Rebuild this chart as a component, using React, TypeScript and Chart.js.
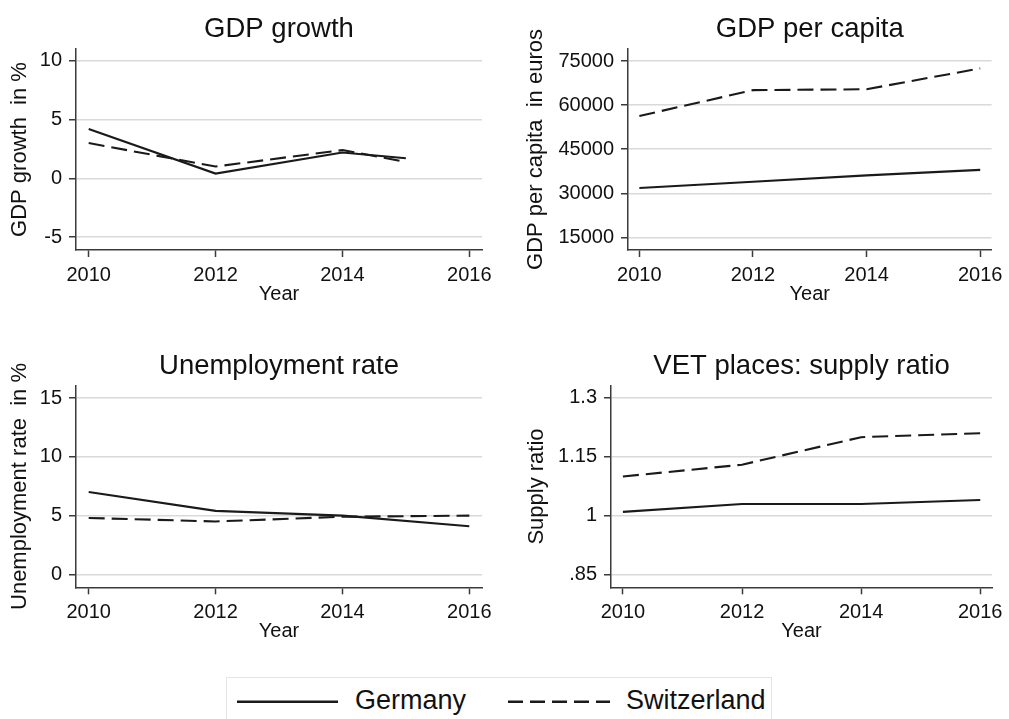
import { useEffect, useRef } from "react";
import { Chart, registerables } from "chart.js";

Chart.register(...registerables);

// ---- data ----
const growthYears = [2010, 2012, 2014, 2015];
const growthGermany = [4.2, 0.4, 2.2, 1.7];
const growthSwitzerland = [3.0, 1.0, 2.4, 1.4];

const years = [2010, 2012, 2014, 2016];
const gdpGermany = [31800, 33900, 36100, 37950];
const gdpSwitzerland = [56300, 65100, 65400, 72500];

const unempGermany = [7.0, 5.4, 5.0, 4.1];
const unempSwitzerland = [4.8, 4.5, 4.9, 5.0];

const vetGermany = [1.01, 1.03, 1.03, 1.04];
const vetSwitzerland = [1.1, 1.13, 1.2, 1.21];

const yearTicks = [2010, 2012, 2014, 2016];
const growthTicks = [-5, 0, 5, 10];
const growthTickLabels = ["-5", "0", "5", "10"];
const gdpTicks = [15000, 30000, 45000, 60000, 75000];
const gdpTickLabels = ["15000", "30000", "45000", "60000", "75000"];
const unempTicks = [0, 5, 10, 15];
const unempTickLabels = ["0", "5", "10", "15"];
const vetTicks = [0.85, 1, 1.15, 1.3];
const vetTickLabels = [".85", "1", "1.15", "1.3"];

const seriesNames = ["Germany", "Switzerland"];

// ---- styling ----
const FONT = "'Liberation Sans', Arial, Helvetica, sans-serif";
const TEXT = "#111111";
const AXIS = "#3a3a3a";
const GRID = "#d9d9d9";
const LINE = "#1a1a1a";
const DASH = [16, 7];
const X_AXIS_H = 70;
const TITLE_SIZE = 27.5;
const TICK_SIZE = 20;
const Y_TITLE_SIZE = 22;
const X_TITLE_SIZE = 20;
const LEGEND_SIZE = 27;

type Panel = {
  title: string;
  yTitle: string;
  xs: number[];
  germany: number[];
  switzerland: number[];
  yTicks: number[];
  yLabels: string[];
  yMin: number;
  yMax: number;
  box: { left: number; top: number; width: number; height: number };
  area: { l: number; t: number; r: number; b: number };
  yTitlePad: number;
};

const panels: Panel[] = [
  {
    title: "GDP growth",
    yTitle: "GDP growth  in %",
    xs: growthYears,
    germany: growthGermany,
    switzerland: growthSwitzerland,
    yTicks: growthTicks,
    yLabels: growthTickLabels,
    yMin: -6.1,
    yMax: 11.0,
    box: { left: 0, top: 0, width: 500, height: 320 },
    area: { l: 76, t: 49, r: 482, b: 250 },
    yTitlePad: 6.6,
  },
  {
    title: "GDP per capita",
    yTitle: "GDP per capita  in euros",
    xs: years,
    germany: gdpGermany,
    switzerland: gdpSwitzerland,
    yTicks: gdpTicks,
    yLabels: gdpTickLabels,
    yMin: 10700,
    yMax: 79100,
    box: { left: 505, top: 0, width: 504, height: 320 },
    area: { l: 123, t: 49, r: 493, b: 250 },
    yTitlePad: 18.2,
  },
  {
    title: "Unemployment rate",
    yTitle: "Unemployment rate  in %",
    xs: years,
    germany: unempGermany,
    switzerland: unempSwitzerland,
    yTicks: unempTicks,
    yLabels: unempTickLabels,
    yMin: -1.1,
    yMax: 16.05,
    box: { left: 0, top: 340, width: 500, height: 320 },
    area: { l: 76, t: 45.7, r: 482, b: 247.3 },
    yTitlePad: 6.6,
  },
  {
    title: "VET places: supply ratio",
    yTitle: "Supply ratio",
    xs: years,
    germany: vetGermany,
    switzerland: vetSwitzerland,
    yTicks: vetTicks,
    yLabels: vetTickLabels,
    yMin: 0.818,
    yMax: 1.331,
    box: { left: 505, top: 340, width: 504, height: 320 },
    area: { l: 106, t: 45.7, r: 493, b: 247.3 },
    yTitlePad: 19,
  },
];

function PanelChart({ p }: { p: Panel }) {
  const ref = useRef<HTMLCanvasElement | null>(null);

  useEffect(() => {
    if (!ref.current) return;
    const titleBlock = TITLE_SIZE * 1.2 + 3;
    const chart = new Chart(ref.current, {
      type: "line",
      data: {
        datasets: [
          {
            label: seriesNames[0],
            data: p.xs.map((x, i) => ({ x, y: p.germany[i] })),
            borderColor: LINE,
            borderWidth: 2.1,
            pointRadius: 0,
            tension: 0,
            fill: false,
          },
          {
            label: seriesNames[1],
            data: p.xs.map((x, i) => ({ x, y: p.switzerland[i] })),
            borderColor: LINE,
            borderWidth: 2.1,
            borderDash: DASH,
            pointRadius: 0,
            tension: 0,
            fill: false,
          },
        ],
      },
      options: {
        animation: false,
        responsive: false,
        maintainAspectRatio: false,
        events: [],
        layout: {
          padding: {
            left: 0,
            top: p.area.t - titleBlock,
            right: p.box.width - p.area.r,
            bottom: p.box.height - p.area.b - X_AXIS_H,
          },
        },
        plugins: {
          legend: { display: false },
          tooltip: { enabled: false },
          title: {
            display: true,
            text: p.title,
            color: TEXT,
            font: { family: FONT, size: TITLE_SIZE, weight: "normal" },
            padding: { top: 0, bottom: 3 },
            fullSize: false,
          },
        },
        scales: {
          x: {
            type: "linear",
            min: 2009.8,
            max: 2016.2,
            afterBuildTicks: (s: any) => {
              s.ticks = yearTicks.map((v) => ({ value: v }));
            },
            afterFit: (s: any) => {
              s.height = X_AXIS_H;
            },
            grid: {
              drawOnChartArea: false,
              drawTicks: true,
              tickLength: 7,
              tickColor: AXIS,
              tickWidth: 1.5,
            },
            border: { display: true, color: AXIS, width: 1.5 },
            ticks: {
              padding: 6,
              color: TEXT,
              font: { family: FONT, size: TICK_SIZE },
              maxRotation: 0,
              autoSkip: false,
              callback: (v: any) => String(v),
            },
            title: {
              display: true,
              text: "Year",
              color: TEXT,
              font: { family: FONT, size: X_TITLE_SIZE },
              padding: { top: 0, bottom: 13.9 },
            },
          },
          y: {
            type: "linear",
            min: p.yMin,
            max: p.yMax,
            afterBuildTicks: (s: any) => {
              s.ticks = p.yTicks.map((v) => ({ value: v }));
            },
            afterFit: (s: any) => {
              s.width = p.area.l;
            },
            grid: {
              color: GRID,
              lineWidth: 1.5,
              drawTicks: true,
              tickLength: 7,
              tickColor: AXIS,
              tickWidth: 1.5,
            },
            border: { display: true, color: AXIS, width: 1.5 },
            ticks: {
              padding: 7,
              color: TEXT,
              font: { family: FONT, size: TICK_SIZE },
              autoSkip: false,
              callback: (v: any) => {
                const i = p.yTicks.findIndex((t) => Math.abs(t - Number(v)) < 1e-9);
                return i >= 0 ? p.yLabels[i] : "";
              },
            },
            title: {
              display: true,
              text: p.yTitle,
              color: TEXT,
              font: { family: FONT, size: Y_TITLE_SIZE },
              padding: { top: p.yTitlePad, bottom: 0 },
            },
          },
        },
      } as any,
    });
    return () => chart.destroy();
  }, [p]);

  return (
    <canvas
      ref={ref}
      width={p.box.width}
      height={p.box.height}
      style={{
        position: "absolute",
        left: p.box.left,
        top: p.box.top,
        width: p.box.width,
        height: p.box.height,
      }}
    />
  );
}

function Legend() {
  return (
    <svg
      width={1009}
      height={719}
      style={{ position: "absolute", left: 0, top: 0, pointerEvents: "none" }}
    >
      <rect x={226.5} y={677.5} width={545} height={60} fill="#ffffff" stroke="#e4e4e4" strokeWidth={1} />
      <line x1={237} y1={701.7} x2={338} y2={701.7} stroke={LINE} strokeWidth={2.5} />
      <text x={355} y={708.8} fontFamily={FONT} fontSize={LEGEND_SIZE} fill={TEXT}>
        {seriesNames[0]}
      </text>
      <line
        x1={508}
        y1={701.7}
        x2={610}
        y2={701.7}
        stroke={LINE}
        strokeWidth={2.5}
        strokeDasharray="15 7"
      />
      <text x={626} y={708.8} fontFamily={FONT} fontSize={LEGEND_SIZE} fill={TEXT}>
        {seriesNames[1]}
      </text>
    </svg>
  );
}

export default function App() {
  return (
    <div
      style={{
        position: "fixed",
        left: 0,
        top: 0,
        width: 1009,
        height: 719,
        background: "#ffffff",
        overflow: "hidden",
      }}
    >
      {panels.map((p, i) => (
        <PanelChart key={i} p={p} />
      ))}
      <Legend />
    </div>
  );
}
